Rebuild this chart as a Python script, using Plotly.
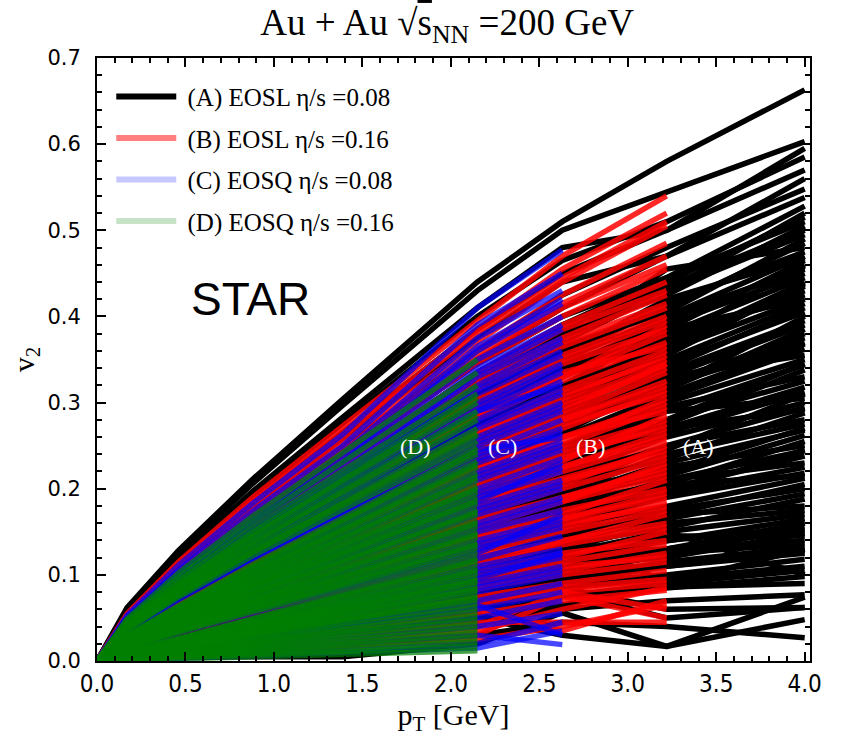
import plotly.graph_objects as go

# pT knots (GeV) at which every curve is sampled
PT_KNOTS = [0.0, 0.17, 0.46, 0.88, 1.39, 2.15, 2.63, 3.22, 4.0]
ORIGIN_V2 = 0.0

# (A) EOSL eta/s=0.08 : v2 at pT = 0.17 ... 4.0
A_CURVES = [
    [0.062,0.128,0.211,0.304,0.44,0.51,0.58,0.663],
    [0.060,0.125,0.206,0.297,0.43,0.50,0.545,0.603],
    [0.057,0.119,0.197,0.283,0.41,0.48,0.50,0.595],
    [0.056,0.116,0.192,0.276,0.40,0.465,0.51,0.585],
    [0.054,0.112,0.185,0.266,0.385,0.45,0.50,0.57],
    [0.053,0.109,0.180,0.259,0.375,0.44,0.47,0.56],
    [0.050,0.104,0.173,0.248,0.36,0.425,0.48,0.548],
    [0.049,0.102,0.168,0.242,0.35,0.41,0.47,0.538],
    [0.048,0.100,0.166,0.238,0.345,0.40,0.445,0.528],
    [0.046,0.096,0.158,0.228,0.33,0.385,0.44,0.515],
    [0.046,0.094,0.156,0.224,0.325,0.38,0.425,0.505],
    [0.044,0.091,0.151,0.217,0.315,0.37,0.43,0.495],
    [0.043,0.090,0.149,0.214,0.31,0.36,0.41,0.485],
    [0.042,0.087,0.144,0.207,0.30,0.35,0.415,0.475],
    [0.041,0.086,0.142,0.204,0.295,0.345,0.385,0.465],
    [0.040,0.083,0.137,0.197,0.285,0.335,0.40,0.455],
    [0.039,0.081,0.134,0.193,0.28,0.33,0.38,0.445],
    [0.038,0.078,0.130,0.186,0.27,0.315,0.36,0.435],
    [0.037,0.077,0.127,0.183,0.265,0.31,0.375,0.425],
    [0.036,0.074,0.122,0.176,0.255,0.30,0.35,0.415],
    [0.035,0.073,0.120,0.173,0.25,0.29,0.345,0.405],
    [0.029,0.062,0.108,0.161,0.24,0.285,0.335,0.395],
    [0.028,0.061,0.106,0.157,0.235,0.275,0.315,0.385],
    [0.027,0.059,0.101,0.151,0.225,0.265,0.325,0.375],
    [0.026,0.057,0.099,0.147,0.22,0.26,0.305,0.362],
    [0.025,0.055,0.095,0.141,0.21,0.25,0.30,0.35],
    [0.025,0.053,0.092,0.137,0.205,0.24,0.275,0.338],
    [0.023,0.051,0.088,0.131,0.195,0.23,0.28,0.325],
    [0.023,0.049,0.086,0.127,0.19,0.225,0.265,0.312],
    [0.022,0.047,0.081,0.121,0.18,0.215,0.26,0.30],
    [0.021,0.046,0.079,0.117,0.175,0.205,0.235,0.288],
    [0.020,0.043,0.074,0.111,0.165,0.195,0.24,0.275],
    [0.019,0.042,0.072,0.107,0.16,0.19,0.215,0.262],
    [0.018,0.039,0.068,0.100,0.15,0.18,0.225,0.25],
    [0.017,0.038,0.065,0.097,0.145,0.17,0.20,0.238],
    [0.016,0.035,0.061,0.090,0.135,0.165,0.195,0.225],
    [0.016,0.034,0.059,0.087,0.13,0.155,0.18,0.212],
    [0.011,0.026,0.049,0.078,0.12,0.145,0.175,0.20],
    [0.010,0.025,0.047,0.075,0.115,0.135,0.155,0.188],
    [0.009,0.023,0.043,0.068,0.105,0.13,0.16,0.175],
    [0.009,0.022,0.041,0.065,0.10,0.12,0.14,0.165],
    [0.009,0.021,0.039,0.062,0.095,0.115,0.14,0.155],
    [0.008,0.020,0.037,0.059,0.09,0.11,0.12,0.148],
    [0.008,0.019,0.035,0.055,0.085,0.10,0.13,0.14],
    [0.007,0.018,0.033,0.052,0.08,0.095,0.115,0.132],
    [0.007,0.017,0.031,0.049,0.075,0.09,0.11,0.125],
    [0.006,0.015,0.029,0.046,0.07,0.09,0.10,0.118],
    [0.006,0.014,0.027,0.042,0.065,0.085,0.095,0.11],
    [0.005,0.013,0.025,0.039,0.06,0.075,0.09,0.105],
    [0.005,0.012,0.023,0.036,0.055,0.075,0.085,0.098],
    [0.005,0.011,0.020,0.032,0.05,0.065,0.086,0.09],
    [0.004,0.010,0.018,0.030,0.045,0.06,0.07,0.077],
    [0.004,0.009,0.016,0.026,0.04,0.08,0.05,0.062],
    [0.002,0.004,0.005,0.005,0.02,0.056,0.017,0.048],
    [0.004,0.010,0.018,0.028,0.05,0.03,0.017,0.074],
    [0.003,0.007,0.012,0.018,0.03,0.045,0.04,0.027],
    [0.009,0.022,0.041,0.065,0.10,0.085,0.06,0.062],
    [0.012,0.028,0.052,0.083,0.13,0.15,0.09,0.13],
    [0.008,0.019,0.035,0.055,0.085,0.11,0.15,0.10],
    [0.011,0.026,0.049,0.078,0.12,0.14,0.12,0.16],
    [0.046,0.095,0.157,0.226,0.328,0.39,0.445,0.51],
    [0.044,0.090,0.150,0.215,0.312,0.365,0.405,0.49],
    [0.042,0.086,0.143,0.205,0.298,0.35,0.40,0.47],
    [0.040,0.082,0.135,0.195,0.282,0.33,0.39,0.45],
    [0.037,0.077,0.128,0.185,0.268,0.315,0.37,0.43],
    [0.035,0.073,0.121,0.174,0.252,0.295,0.34,0.41],
    [0.029,0.062,0.107,0.159,0.238,0.28,0.33,0.39],
    [0.027,0.058,0.100,0.149,0.222,0.26,0.31,0.368],
    [0.025,0.054,0.093,0.139,0.208,0.245,0.29,0.344],
    [0.023,0.050,0.087,0.129,0.192,0.228,0.27,0.318],
    [0.022,0.047,0.080,0.119,0.178,0.21,0.25,0.294],
    [0.020,0.043,0.073,0.109,0.162,0.19,0.23,0.268],
    [0.018,0.039,0.067,0.099,0.148,0.175,0.21,0.244],
    [0.016,0.035,0.060,0.089,0.132,0.16,0.19,0.218],
    [0.011,0.026,0.048,0.077,0.118,0.14,0.165,0.194],
    [0.009,0.023,0.042,0.067,0.102,0.125,0.15,0.17],
    [0.008,0.020,0.038,0.060,0.092,0.112,0.13,0.152],
    [0.008,0.018,0.034,0.054,0.082,0.098,0.125,0.136],
    [0.045,0.093,0.154,0.221,0.32,0.375,0.435,0.50],
    [0.039,0.080,0.132,0.190,0.275,0.32,0.365,0.44],
    [0.045,0.092,0.152,0.219,0.318,0.37,0.455,0.48],
    [0.041,0.085,0.140,0.202,0.292,0.34,0.37,0.46],
    [0.038,0.079,0.131,0.188,0.272,0.32,0.385,0.42],
    [0.034,0.071,0.117,0.169,0.245,0.285,0.315,0.40],
    [0.028,0.060,0.103,0.154,0.23,0.27,0.33,0.355],
    [0.026,0.056,0.097,0.144,0.215,0.25,0.28,0.345],
    [0.024,0.052,0.090,0.134,0.20,0.235,0.29,0.305],
    [0.022,0.048,0.083,0.124,0.185,0.22,0.245,0.31],
    [0.020,0.044,0.076,0.113,0.168,0.20,0.25,0.28],
    [0.019,0.041,0.070,0.104,0.155,0.185,0.205,0.255],
    [0.017,0.037,0.064,0.095,0.142,0.17,0.21,0.23],
    [0.015,0.033,0.057,0.085,0.127,0.15,0.17,0.205],
    [0.011,0.025,0.046,0.073,0.112,0.135,0.17,0.18],
    [0.010,0.023,0.043,0.068,0.105,0.125,0.13,0.16],
    [0.009,0.021,0.039,0.062,0.095,0.11,0.145,0.145],
    [0.008,0.019,0.036,0.057,0.088,0.105,0.11,0.128],
    [0.047,0.097,0.160,0.231,0.335,0.39,0.43,0.52],
    [0.043,0.089,0.147,0.211,0.305,0.355,0.42,0.468],
    [0.041,0.084,0.139,0.200,0.29,0.34,0.395,0.458],
    [0.038,0.080,0.132,0.190,0.275,0.32,0.355,0.438],
    [0.036,0.075,0.124,0.179,0.26,0.305,0.36,0.42],
    [0.034,0.070,0.116,0.167,0.242,0.285,0.32,0.38],
    [0.027,0.060,0.104,0.154,0.23,0.27,0.32,0.37],
    [0.025,0.054,0.094,0.140,0.21,0.245,0.295,0.33],
    [0.022,0.048,0.084,0.125,0.186,0.22,0.27,0.292],
    [0.020,0.044,0.075,0.112,0.168,0.20,0.22,0.27],
    [0.018,0.040,0.069,0.103,0.153,0.18,0.195,0.245],
    [0.016,0.036,0.062,0.092,0.138,0.165,0.205,0.215],
]

# (B) EOSL eta/s=0.16 : v2 at pT = 0.17 ... 3.22
B_CURVES = [
    [0.055,0.115,0.190,0.273,0.395,0.47,0.54],
    [0.053,0.110,0.182,0.262,0.38,0.445,0.51],
    [0.052,0.107,0.178,0.255,0.37,0.44,0.505],
    [0.050,0.103,0.170,0.245,0.355,0.415,0.47],
    [0.048,0.100,0.166,0.238,0.345,0.40,0.455],
    [0.047,0.097,0.161,0.231,0.335,0.39,0.44],
    [0.046,0.094,0.156,0.224,0.325,0.375,0.425],
    [0.044,0.091,0.151,0.217,0.315,0.365,0.41],
    [0.043,0.088,0.146,0.210,0.305,0.355,0.40],
    [0.041,0.086,0.142,0.204,0.295,0.345,0.385],
    [0.041,0.084,0.139,0.200,0.29,0.33,0.39],
    [0.039,0.081,0.134,0.193,0.28,0.325,0.37],
    [0.038,0.078,0.130,0.186,0.27,0.315,0.36],
    [0.037,0.077,0.127,0.183,0.265,0.305,0.355],
    [0.036,0.074,0.122,0.176,0.255,0.295,0.34],
    [0.029,0.064,0.110,0.164,0.245,0.285,0.335],
    [0.029,0.062,0.108,0.161,0.24,0.28,0.32],
    [0.028,0.060,0.104,0.154,0.23,0.27,0.315],
    [0.027,0.059,0.101,0.151,0.225,0.26,0.30],
    [0.026,0.056,0.097,0.144,0.215,0.25,0.295],
    [0.025,0.055,0.095,0.141,0.21,0.245,0.28],
    [0.024,0.052,0.090,0.134,0.20,0.235,0.275],
    [0.023,0.051,0.088,0.131,0.195,0.225,0.26],
    [0.022,0.048,0.083,0.124,0.185,0.22,0.255],
    [0.022,0.047,0.081,0.121,0.18,0.21,0.24],
    [0.020,0.044,0.077,0.114,0.17,0.20,0.235],
    [0.020,0.043,0.074,0.111,0.165,0.19,0.22],
    [0.019,0.040,0.070,0.104,0.155,0.185,0.215],
    [0.018,0.039,0.068,0.100,0.15,0.175,0.20],
    [0.017,0.036,0.063,0.094,0.14,0.165,0.195],
    [0.016,0.035,0.061,0.090,0.135,0.16,0.18],
    [0.015,0.033,0.056,0.084,0.125,0.15,0.175],
    [0.011,0.026,0.049,0.078,0.12,0.14,0.16],
    [0.010,0.024,0.045,0.072,0.11,0.135,0.155],
    [0.009,0.023,0.043,0.068,0.105,0.125,0.14],
    [0.009,0.021,0.039,0.062,0.095,0.115,0.135],
    [0.008,0.020,0.037,0.059,0.09,0.11,0.12],
    [0.008,0.019,0.035,0.055,0.085,0.10,0.115],
    [0.007,0.017,0.031,0.049,0.075,0.09,0.105],
    [0.006,0.015,0.029,0.046,0.07,0.085,0.095],
    [0.006,0.014,0.027,0.042,0.065,0.08,0.09],
    [0.005,0.012,0.023,0.036,0.055,0.07,0.082],
    [0.004,0.010,0.018,0.029,0.045,0.045,0.045],
    [0.004,0.009,0.016,0.026,0.04,0.08,0.06],
    [0.003,0.008,0.014,0.023,0.035,0.06,0.085],
    [0.003,0.007,0.012,0.020,0.03,0.075,0.05],
    [0.005,0.013,0.025,0.039,0.06,0.035,0.07],
    [0.002,0.005,0.010,0.016,0.025,0.04,0.065],
    [0.054,0.112,0.185,0.266,0.385,0.455,0.52],
    [0.049,0.101,0.168,0.242,0.35,0.41,0.46],
    [0.046,0.095,0.158,0.228,0.33,0.385,0.43],
    [0.042,0.087,0.144,0.207,0.30,0.35,0.395],
    [0.040,0.082,0.136,0.196,0.285,0.33,0.38],
    [0.038,0.077,0.128,0.184,0.268,0.31,0.35],
    [0.030,0.065,0.113,0.168,0.25,0.29,0.345],
    [0.028,0.061,0.106,0.157,0.235,0.275,0.31],
    [0.026,0.057,0.099,0.148,0.22,0.255,0.305],
    [0.025,0.053,0.092,0.137,0.205,0.24,0.27],
    [0.022,0.049,0.085,0.127,0.19,0.225,0.265],
    [0.021,0.045,0.079,0.117,0.175,0.205,0.25],
    [0.019,0.042,0.072,0.107,0.16,0.19,0.225],
    [0.017,0.038,0.065,0.097,0.145,0.17,0.21],
    [0.016,0.034,0.059,0.087,0.13,0.155,0.185],
    [0.011,0.025,0.047,0.075,0.115,0.14,0.17],
    [0.009,0.022,0.041,0.065,0.10,0.12,0.15],
    [0.008,0.018,0.034,0.054,0.083,0.105,0.125],
    [0.051,0.105,0.174,0.250,0.362,0.425,0.485],
    [0.045,0.093,0.154,0.221,0.32,0.37,0.415],
    [0.040,0.083,0.137,0.197,0.285,0.335,0.365],
    [0.037,0.076,0.126,0.181,0.262,0.30,0.345],
    [0.029,0.063,0.109,0.162,0.242,0.28,0.325],
    [0.027,0.058,0.100,0.149,0.222,0.26,0.29],
    [0.024,0.052,0.090,0.134,0.20,0.232,0.285],
    [0.022,0.047,0.082,0.122,0.182,0.212,0.245],
    [0.019,0.041,0.071,0.106,0.158,0.185,0.23],
    [0.017,0.037,0.064,0.095,0.142,0.165,0.19],
]

# (C) EOSQ eta/s=0.08 : v2 at pT = 0.17 ... 2.63
C_CURVES = [
    [0.053,0.111,0.183,0.263,0.41,0.477],
    [0.051,0.105,0.174,0.250,0.39,0.45],
    [0.049,0.101,0.167,0.241,0.375,0.43],
    [0.047,0.097,0.161,0.231,0.36,0.415],
    [0.046,0.095,0.156,0.225,0.35,0.40],
    [0.045,0.092,0.152,0.219,0.34,0.39],
    [0.043,0.089,0.147,0.212,0.33,0.375],
    [0.042,0.086,0.143,0.206,0.32,0.37],
    [0.043,0.090,0.149,0.214,0.31,0.355],
    [0.042,0.087,0.144,0.207,0.30,0.345],
    [0.041,0.084,0.139,0.200,0.29,0.335],
    [0.039,0.081,0.134,0.193,0.28,0.325],
    [0.038,0.078,0.130,0.186,0.27,0.31],
    [0.036,0.075,0.125,0.179,0.26,0.30],
    [0.035,0.073,0.120,0.173,0.25,0.29],
    [0.029,0.062,0.108,0.161,0.24,0.28],
    [0.028,0.060,0.104,0.154,0.23,0.265],
    [0.026,0.057,0.099,0.147,0.22,0.255],
    [0.025,0.055,0.095,0.141,0.21,0.245],
    [0.024,0.052,0.090,0.134,0.20,0.235],
    [0.023,0.049,0.086,0.127,0.19,0.22],
    [0.022,0.047,0.081,0.121,0.18,0.21],
    [0.020,0.044,0.077,0.114,0.17,0.20],
    [0.019,0.042,0.072,0.107,0.16,0.19],
    [0.018,0.039,0.068,0.100,0.15,0.175],
    [0.017,0.036,0.063,0.094,0.14,0.165],
    [0.016,0.034,0.059,0.087,0.13,0.155],
    [0.011,0.026,0.049,0.078,0.12,0.145],
    [0.010,0.024,0.045,0.072,0.11,0.13],
    [0.009,0.022,0.041,0.065,0.10,0.12],
    [0.008,0.020,0.037,0.059,0.09,0.11],
    [0.007,0.018,0.033,0.052,0.08,0.10],
    [0.006,0.015,0.029,0.046,0.07,0.09],
    [0.005,0.013,0.025,0.039,0.06,0.08],
    [0.005,0.011,0.021,0.033,0.05,0.07],
    [0.004,0.009,0.016,0.026,0.04,0.055],
    [0.003,0.007,0.012,0.020,0.03,0.019],
    [0.002,0.004,0.008,0.013,0.02,0.045],
    [0.006,0.014,0.027,0.042,0.065,0.03],
    [0.001,0.003,0.006,0.010,0.015,0.035],
    [0.022,0.048,0.083,0.124,0.185,0.23],
    [0.034,0.071,0.118,0.169,0.245,0.26],
    [0.015,0.033,0.056,0.084,0.125,0.17],
    [0.041,0.084,0.139,0.200,0.29,0.32],
    [0.009,0.021,0.039,0.062,0.095,0.125],
    [0.047,0.099,0.163,0.234,0.365,0.42],
    [0.044,0.090,0.150,0.215,0.335,0.385],
    [0.044,0.091,0.151,0.217,0.315,0.36],
    [0.041,0.085,0.142,0.204,0.295,0.34],
    [0.039,0.080,0.132,0.190,0.275,0.315],
    [0.036,0.074,0.123,0.176,0.255,0.295],
    [0.028,0.061,0.106,0.157,0.235,0.27],
    [0.026,0.056,0.097,0.144,0.215,0.25],
    [0.023,0.051,0.088,0.131,0.195,0.225],
    [0.021,0.046,0.079,0.117,0.175,0.205],
    [0.019,0.040,0.070,0.104,0.155,0.185],
    [0.016,0.035,0.061,0.090,0.135,0.16],
    [0.010,0.023,0.043,0.068,0.105,0.125],
    [0.008,0.019,0.035,0.055,0.085,0.105],
]

# (D) EOSQ eta/s=0.16 : v2 at pT = 0.17 ... 2.15
D_CURVES = [
    [0.049,0.102,0.168,0.242,0.35],
    [0.047,0.097,0.161,0.231,0.335],
    [0.045,0.093,0.154,0.221,0.32],
    [0.043,0.090,0.149,0.214,0.31],
    [0.042,0.087,0.144,0.207,0.30],
    [0.041,0.084,0.139,0.200,0.29],
    [0.039,0.081,0.134,0.193,0.28],
    [0.038,0.078,0.130,0.186,0.27],
    [0.037,0.076,0.126,0.181,0.262],
    [0.036,0.074,0.122,0.176,0.255],
    [0.030,0.064,0.112,0.166,0.248],
    [0.029,0.062,0.108,0.161,0.24],
    [0.028,0.060,0.104,0.155,0.232],
    [0.027,0.059,0.101,0.151,0.225],
    [0.026,0.057,0.098,0.146,0.218],
    [0.025,0.055,0.095,0.141,0.21],
    [0.024,0.053,0.091,0.136,0.203],
    [0.024,0.051,0.088,0.131,0.196],
    [0.023,0.049,0.086,0.127,0.19],
    [0.022,0.048,0.082,0.123,0.183],
    [0.021,0.046,0.079,0.118,0.176],
    [0.020,0.044,0.077,0.114,0.17],
    [0.020,0.042,0.073,0.109,0.163],
    [0.019,0.041,0.070,0.105,0.156],
    [0.018,0.039,0.068,0.100,0.15],
    [0.017,0.037,0.065,0.096,0.144],
    [0.017,0.036,0.062,0.092,0.138],
    [0.016,0.034,0.059,0.088,0.132],
    [0.015,0.033,0.057,0.084,0.126],
    [0.011,0.026,0.049,0.078,0.12],
    [0.010,0.025,0.047,0.074,0.114],
    [0.010,0.024,0.044,0.070,0.108],
    [0.009,0.022,0.042,0.066,0.102],
    [0.009,0.021,0.040,0.063,0.097],
    [0.008,0.020,0.038,0.060,0.092],
    [0.008,0.019,0.036,0.057,0.087],
    [0.007,0.018,0.034,0.053,0.082],
    [0.007,0.017,0.032,0.050,0.077],
    [0.006,0.016,0.030,0.047,0.072],
    [0.006,0.015,0.027,0.044,0.067],
    [0.006,0.014,0.025,0.040,0.062],
    [0.005,0.013,0.023,0.037,0.057],
    [0.005,0.011,0.021,0.034,0.052],
    [0.004,0.010,0.019,0.031,0.047],
    [0.004,0.009,0.017,0.027,0.042],
    [0.003,0.008,0.015,0.024,0.037],
    [0.003,0.007,0.013,0.021,0.032],
    [0.002,0.006,0.011,0.018,0.027],
    [0.002,0.005,0.009,0.014,0.022],
    [0.002,0.004,0.007,0.011,0.017],
    [0.001,0.003,0.006,0.009,0.012],
    [0.043,0.088,0.146,0.210,0.305],
    [0.040,0.083,0.137,0.197,0.285],
    [0.037,0.077,0.127,0.183,0.265],
    [0.029,0.063,0.110,0.163,0.244],
    [0.027,0.059,0.103,0.153,0.228],
    [0.026,0.056,0.096,0.143,0.214],
    [0.024,0.052,0.090,0.134,0.20],
    [0.022,0.048,0.084,0.125,0.186],
    [0.021,0.045,0.078,0.116,0.173],
    [0.019,0.042,0.072,0.107,0.16],
    [0.018,0.038,0.066,0.098,0.147],
    [0.016,0.035,0.061,0.090,0.135],
    [0.011,0.026,0.048,0.076,0.117],
    [0.009,0.023,0.043,0.068,0.105],
    [0.008,0.021,0.039,0.061,0.094],
    [0.008,0.018,0.034,0.055,0.084],
    [0.007,0.016,0.030,0.048,0.074],
]

LEGEND_LABELS = ["(A) EOSL η/s =0.08", "(B) EOSL η/s =0.16",
                 "(C) EOSQ η/s =0.08", "(D) EOSQ η/s =0.16"]
LEGEND_COLORS = ["rgb(0,0,0)", "rgba(255,0,0,0.5)", "rgba(0,0,255,0.22)", "rgba(0,128,0,0.22)"]
CURVE_COLORS = ["rgb(0,0,0)", "rgba(255,0,0,0.85)", "rgba(0,0,255,0.72)", "rgba(0,128,0,0.72)"]
GROUP_TAGS = ["(A)", "(B)", "(C)", "(D)"]
TAG_PT = [3.40, 2.79, 2.29, 1.80]
TAG_V2 = 0.249

fig = go.Figure()
for curves, color in zip([A_CURVES, B_CURVES, C_CURVES, D_CURVES], CURVE_COLORS):
    for c in curves:
        fig.add_trace(go.Scatter(
            x=PT_KNOTS[:len(c) + 1], y=[ORIGIN_V2] + list(c), mode="lines",
            line=dict(color=color, width=5.5), showlegend=False, hoverinfo="skip"))

for i, (lab, col) in enumerate(zip(LEGEND_LABELS, LEGEND_COLORS)):
    fig.add_trace(go.Scatter(x=[None], y=[None], mode="lines", name="\u00a0" + lab,
                             legendgroup=f"g{i}", line=dict(color=col, width=6)))

serif = "Liberation Serif, Times New Roman, serif"
for tag, px in zip(GROUP_TAGS, TAG_PT):
    fig.add_annotation(x=px, y=TAG_V2, text=tag, showarrow=False,
                       font=dict(family=serif, size=22, color="white"))
fig.add_annotation(x=0.87, y=0.42, text="STAR", showarrow=False,
                   font=dict(family="Liberation Sans, Arial, sans-serif", size=46, color="black"))

fig.update_layout(
    width=842, height=743,
    margin=dict(l=97, r=32, t=58, b=82),
    paper_bgcolor="white", plot_bgcolor="white",
    title=dict(text="Au + Au √<span style='text-decoration:overline'>s</span><sub>NN</sub> =200 GeV",
               x=0.531, xanchor="center", y=0.970, yanchor="middle",
               font=dict(family=serif, size=37, color="black")),
    legend=dict(x=0.02, y=0.974, xanchor="left", yanchor="top", bgcolor="rgba(0,0,0,0)",
                font=dict(family=serif, size=25, color="black"), traceorder="grouped",
                tracegroupgap=6, itemwidth=60),
    xaxis=dict(range=[0, 4.03], dtick=0.5, tick0=0, tickformat=".1f",
               ticks="inside", ticklen=9, tickwidth=1.5, tickcolor="black",
               minor=dict(dtick=0.1, ticks="inside", ticklen=5, tickcolor="black"),
               showline=True, linecolor="black", linewidth=2, mirror="ticks",
               showgrid=False, zeroline=False,
               tickfont=dict(family="Liberation Sans Narrow, DejaVu Sans Condensed, Arial Narrow, sans-serif",
                             size=24, color="black"),
               title=dict(text="p<sub>T</sub> [GeV]", standoff=6,
                          font=dict(family=serif, size=30, color="black"))),
    yaxis=dict(range=[0, 0.7], dtick=0.1, tick0=0, tickformat=".1f",
               ticks="inside", ticklen=9, tickwidth=1.5, tickcolor="black",
               minor=dict(dtick=0.02, ticks="inside", ticklen=5, tickcolor="black"),
               showline=True, linecolor="black", linewidth=2, mirror="ticks",
               showgrid=False, zeroline=False, ticklabelstandoff=10,
               tickfont=dict(family="DejaVu Sans, sans-serif", size=21, color="black"),
               title=dict(text="v<sub>2</sub>", standoff=4,
                          font=dict(family=serif, size=30, color="black"))),
)

fig.write_html("out.html")
